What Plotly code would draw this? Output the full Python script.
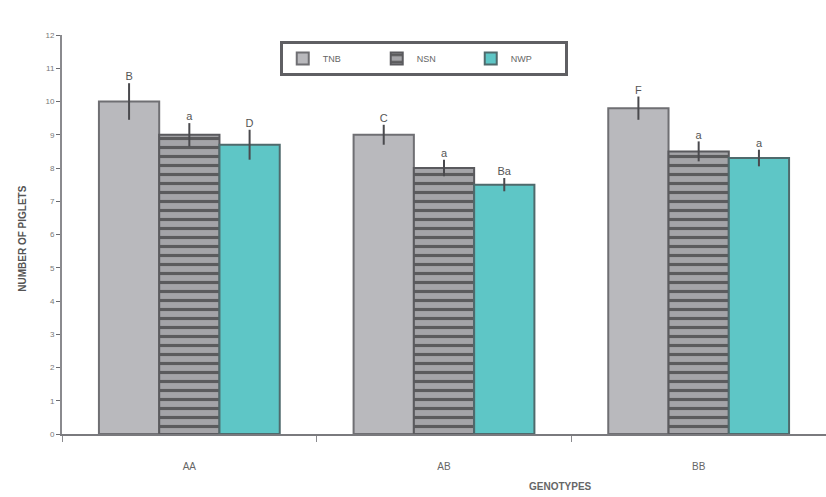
import plotly.graph_objects as go

categories = ["AA", "AB", "BB"]
series_names = ["TNB", "NSN", "NWP"]
tnb = [10.0, 9.0, 9.8]
nsn = [9.0, 8.0, 8.5]
nwp = [8.7, 7.5, 8.3]
tnb_err = [0.55, 0.3, 0.35]
nsn_err = [0.35, 0.25, 0.3]
nwp_err = [0.45, 0.2, 0.25]
tnb_letters = ["B", "C", "F"]
nsn_letters = ["a", "a", "a"]
nwp_letters = ["D", "Ba", "a"]
y_ticks = list(range(0, 13))

values = [tnb, nsn, nwp]
errors = [tnb_err, nsn_err, nwp_err]
letters = [tnb_letters, nsn_letters, nwp_letters]

styles = [
    dict(color="#b9b9bd", line=dict(color="#6f6f73", width=2)),
    dict(color="#8e8e92", line=dict(color="#5a5a5e", width=2),
         pattern=dict(shape="-", fgcolor="#111111", bgcolor="#a4a4a8", size=9, solidity=0.35)),
    dict(color="#5ec6c6", line=dict(color="#4f6a6c", width=2)),
]

fig = go.Figure()
for i, name in enumerate(series_names):
    fig.add_trace(go.Bar(
        x=categories, y=values[i], name=name, offsetgroup=str(i),
        marker=styles[i],
        error_y=dict(type="data", array=errors[i], visible=True,
                     color="#4a4a4e", thickness=2, width=0),
    ))
for i, name in enumerate(series_names):
    fig.add_trace(go.Scatter(
        x=categories, y=[v + e for v, e in zip(values[i], errors[i])],
        text=letters[i], mode="text", textposition="top center",
        offsetgroup=str(i), showlegend=False, hoverinfo="skip",
        textfont=dict(family="Liberation Sans", size=11, color="#555555"),
    ))

fig.update_layout(
    width=826, height=497,
    margin=dict(l=62, r=0, t=35, b=63),
    paper_bgcolor="white", plot_bgcolor="white",
    barmode="group", scattermode="group",
    bargap=0.29, bargroupgap=0.0,
    font=dict(family="Liberation Sans", color="#555555"),
    legend=dict(
        orientation="h", x=0.285, y=0.985, xanchor="left", yanchor="top",
        bordercolor="#5f5f63", borderwidth=3, bgcolor="white",
        font=dict(size=9, color="#666666"),
        itemwidth=30, entrywidth=49, entrywidthmode="pixels",
    ),
    showlegend=True,
)
fig.update_xaxes(
    showline=True, linecolor="#7a7a7e", linewidth=2,
    ticks="outside", tickson="boundaries", ticklen=6, tickcolor="#8a8a8e",
    tickfont=dict(size=10, color="#666666"), ticklabelstandoff=22,
    showgrid=False, zeroline=False,
)
fig.update_yaxes(
    range=[0, 12], tickvals=y_ticks, showline=True, linecolor="#8a8a8e", linewidth=2,
    ticks="outside", ticklen=4, tickcolor="#6a6a6e",
    tickfont=dict(size=8, color="#777777"),
    showgrid=False, zeroline=False,
)
fig.add_annotation(
    text="<b>NUMBER OF PIGLETS</b>", textangle=-90, xref="paper", yref="paper",
    x=-0.052, y=0.49, showarrow=False, xanchor="center", yanchor="middle",
    font=dict(size=10, color="#555555"),
)
fig.add_annotation(
    text="<b>GENOTYPES</b>", xref="paper", yref="paper",
    x=0.652, y=-0.132, showarrow=False, xanchor="center", yanchor="middle",
    font=dict(size=10, color="#666666"),
)

fig.write_html("out.html")
